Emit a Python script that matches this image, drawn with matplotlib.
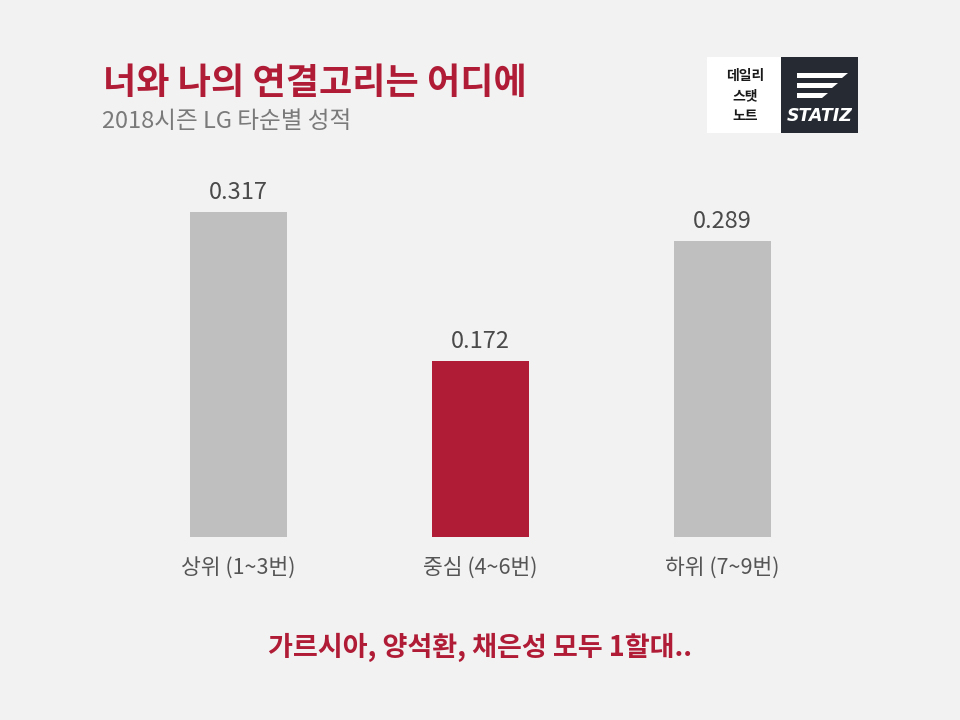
import matplotlib
matplotlib.use("Agg")
import matplotlib.pyplot as plt
from matplotlib.patches import Rectangle, Polygon

plt.rcParams['font.family'] = ['Noto Sans CJK KR', 'DejaVu Sans']

categories = ['상위 (1~3번)', '중심 (4~6번)', '하위 (7~9번)']
values = [0.317, 0.172, 0.289]
value_labels = ['0.317', '0.172', '0.289']
bar_colors = ['#bfbfbf', '#b01c36', '#bfbfbf']
title = '너와 나의 연결고리는 어디에'
subtitle = '2018시즌 LG 타순별 성적'
footer = '가르시아, 양석환, 채은성 모두 1할대..'

W, H = 960, 720
BG = '#f2f2f2'
RED = '#b01c36'

fig = plt.figure(figsize=(W / 100, H / 100), dpi=100, facecolor=BG)


def fx(px):
    return px / W


def fy(py):
    return 1 - py / H


# Axes: baseline at y=537px, category spacing 242px
ymax = 0.35
px_per_unit = 1024
ax_h = ymax * px_per_unit
ax = fig.add_axes([fx(117.5), fy(537), fx(726), ax_h / H])
ax.set_facecolor('none')
x = list(range(len(categories)))
ax.bar(x, values, width=0.4, color=bar_colors, zorder=2)
ax.set_xlim(-0.5, 2.5)
ax.set_ylim(0, ymax)
ax.axis('off')

for i, (v, lab) in enumerate(zip(values, value_labels)):
    ax.annotate(lab, (i, v), xytext=(0, 9.5), textcoords='offset points',
                ha='center', va='baseline', fontsize=17, color='#4a4a4a',
                annotation_clip=False)
    ax.annotate(categories[i], (i, 0), xytext=(0, -26.5), textcoords='offset points',
                ha='center', va='baseline', fontsize=15.5, color='#555555',
                annotation_clip=False)

# Titles
fig.text(fx(103), fy(94), title, fontsize=26, fontweight='bold', color=RED,
         ha='left', va='baseline')
fig.text(fx(102), fy(128), subtitle, fontsize=17, color='#7a7a7a',
         ha='left', va='baseline')

# Footer
fig.text(0.5, fy(656), footer, fontsize=19.5, fontweight='bold', color=RED,
         ha='center', va='baseline')

# Logo
fig.patches.append(Rectangle((fx(707), fy(133)), fx(74), (133 - 57) / H,
                             transform=fig.transFigure, facecolor='white',
                             edgecolor='none'))
fig.patches.append(Rectangle((fx(781), fy(133)), fx(77), (133 - 57) / H,
                             transform=fig.transFigure, facecolor='#262a33',
                             edgecolor='none'))
for line, yy in zip(['데일리', '스탯', '노트'], [80, 100, 120]):
    fig.text(fx(745), fy(yy), line, fontsize=10, fontweight='bold',
             color='#1a1a1a', ha='center', va='baseline', style='italic')
stripes = [(73, 797, 848), (83, 797, 838), (93, 797, 828)]
for top, xl, xr in stripes:
    pts = [(xl, top), (xr, top), (xr - 6, top + 5), (xl, top + 5)]
    fig.patches.append(Polygon([(fx(a), fy(b)) for a, b in pts], closed=True,
                               transform=fig.transFigure, facecolor='white',
                               edgecolor='none'))
fig.text(fx(820), fy(121), 'STATIZ', fontsize=12.5, fontweight='bold',
         style='italic', color='white', ha='center', va='baseline',
         family=['DejaVu Sans'])

fig.savefig('out.png', dpi=100, facecolor=BG)
